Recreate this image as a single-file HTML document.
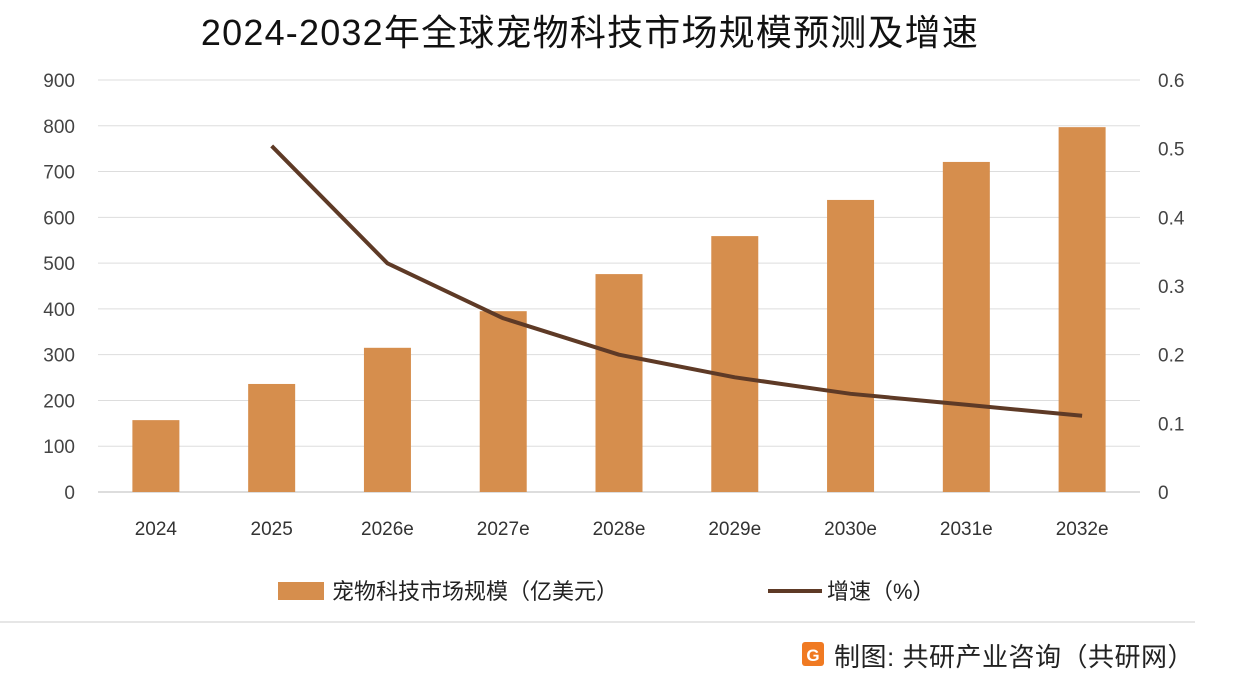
<!DOCTYPE html>
<html><head><meta charset="utf-8"><style>
body{margin:0;width:1246px;height:694px;background:#fff;overflow:hidden;font-family:"Liberation Sans","Noto Sans CJK SC",sans-serif;}
svg text{font-family:"Liberation Sans","Noto Sans CJK SC",sans-serif;}
</style></head><body>
<svg id="chart" width="1246" height="694" xmlns="http://www.w3.org/2000/svg">
<text x="590" y="45" font-size="36" letter-spacing="1.2" text-anchor="middle" fill="#111">2024-2032年全球宠物科技市场规模预测及增速</text>
<g id="grid"></g><g id="bars"></g><g id="line"></g><g id="axes"></g>
<g>
<rect x="278" y="582" width="46" height="18" fill="#D68E4D"/>
<text x="332" y="599" font-size="22" fill="#222">宠物科技市场规模（亿美元）</text>
<line x1="768" y1="591" x2="822" y2="591" stroke="#5E3A26" stroke-width="4"/>
<text x="827" y="599" font-size="22" fill="#222">增速（%）</text>
</g>
<line x1="0" y1="622" x2="1195" y2="622" stroke="#ccc" stroke-width="1"/>
<g>
<rect x="802" y="642" width="22" height="24" rx="3" fill="#F07A22"/>
<text x="813" y="661" font-size="17" font-weight="bold" fill="#fff" text-anchor="middle">G</text>
<text x="834" y="666" font-size="26" letter-spacing="0.5" fill="#222">制图: 共研产业咨询（共研网）</text>
</g>
</svg>
<script>
const categories=["2024","2025","2026e","2027e","2028e","2029e","2030e","2031e","2032e"];
const marketSize=[157,236,315,395,476,559,638,721,797];
const growth=[null,0.504,0.333,0.253,0.2,0.167,0.143,0.127,0.111];
const leftTicks=[0,100,200,300,400,500,600,700,800,900];
const rightTicks=["0","0.1","0.2","0.3","0.4","0.5","0.6"];
const NS="http://www.w3.org/2000/svg";
const L=98,R=1140,T=80,B=492;
const step=(R-L)/categories.length;
const xC=i=>L+step*(i+0.5);
const yL=v=>B-(v/900)*(B-T);
const yR=v=>B-(v/0.6)*(B-T);
function mk(tag,attrs,parent){const e=document.createElementNS(NS,tag);for(const k in attrs)e.setAttribute(k,attrs[k]);document.getElementById(parent).appendChild(e);return e;}
leftTicks.forEach(v=>{
 const g=mk('line',{x1:L,x2:R,y1:yL(v),y2:yL(v),stroke:v===0?'#bbb':'#ddd','stroke-width':1},'grid');
 
 
 const t=mk('text',{x:75,y:yL(v)+7,'font-size':19,'text-anchor':'end',fill:'#444'},'axes');t.textContent=v;
 
 
});
rightTicks.forEach(s=>{
 const t=mk('text',{x:1158,y:yR(parseFloat(s))+7,'font-size':19,fill:'#444'},'axes');t.textContent=s;
 
 
});
categories.forEach((c,i)=>{
 const b=mk('rect',{x:xC(i)-23.5,y:yL(marketSize[i]),width:47,height:B-yL(marketSize[i]),fill:'#D68E4D'},'bars');
 
 
 const t=mk('text',{x:xC(i),y:535,'font-size':19,'text-anchor':'middle',fill:'#333'},'axes');t.textContent=c;
 
 
});
let d='';growth.forEach((g,i)=>{if(g==null)return;d+=(d?'L':'M')+xC(i)+','+yR(g);});
const p=mk('path',{d:d,fill:'none',stroke:'#5E3A26','stroke-width':4,'stroke-linejoin':'round'},'line');


</script>
</body></html>
